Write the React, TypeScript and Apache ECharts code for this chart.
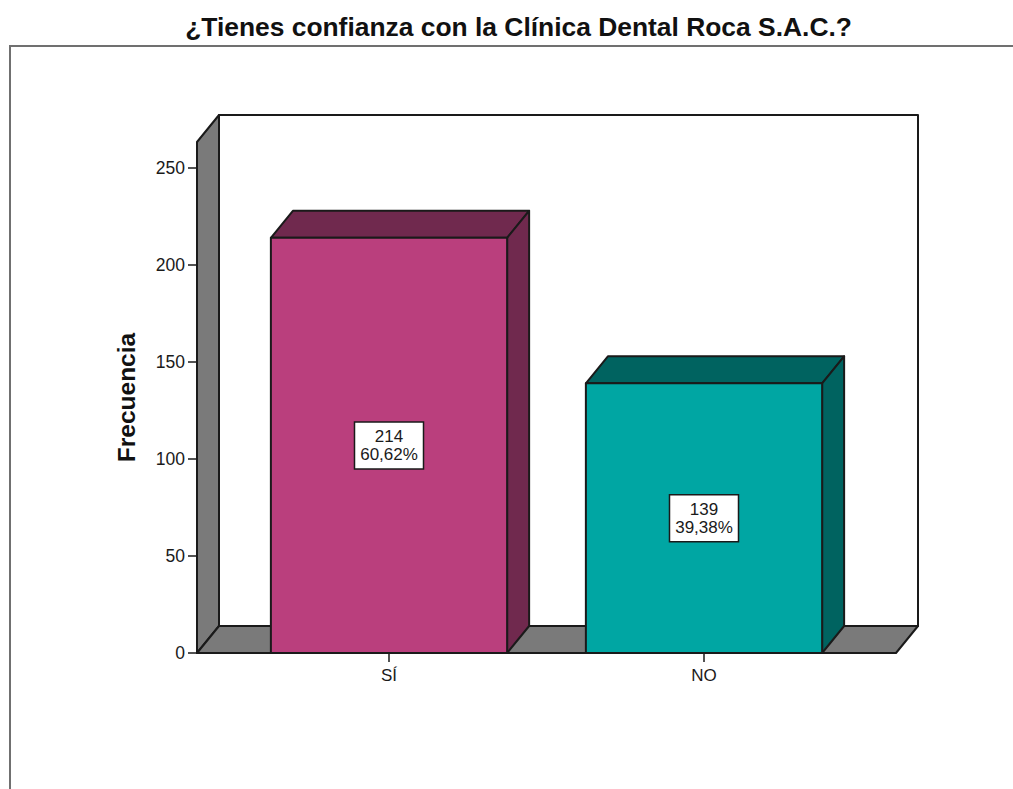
import React, { useEffect, useRef } from "react";
import * as echarts from "echarts";

const titleText = "¿Tienes confianza con la Clínica Dental Roca S.A.C.?";
const axisName = "Frecuencia";
const categories = ["SÍ", "NO"];
const counts = [214, 139];
const percents = ["60,62%", "39,38%"];
const yTicks = [0, 50, 100, 150, 200, 250];
const yCeiling = 263.4;
const faceColors = ["#BA3F7D", "#00A6A3"];
const shadeColors = ["#70294E", "#006360"];

const FONT = '"Liberation Sans", Arial, sans-serif';
const DX = 22;
const DY = 27;
const INK = "#1a1a1a";
const WALL = "#7A7A7A";

function renderWalls(_params: any, api: any) {
  const band = api.size([1, 0])[0];
  const x0 = api.coord([0, 0])[0] - band / 2 - 34.5;
  const x1 = api.coord([1, 0])[0] + band / 2 + 34.5;
  const yBase = api.coord([0, 0])[1];
  const yTop = api.coord([0, api.value(1)])[1];
  const stroke = { stroke: INK, lineWidth: 2, lineJoin: "round" };
  return {
    type: "group",
    children: [
      { type: "rect", shape: { x: x0 + DX, y: yTop - DY, width: x1 - x0, height: yBase - yTop }, style: { fill: "#fff", ...stroke } },
      { type: "polygon", shape: { points: [[x0, yBase], [x0, yTop], [x0 + DX, yTop - DY], [x0 + DX, yBase - DY]] }, style: { fill: WALL, ...stroke } },
      { type: "polygon", shape: { points: [[x0, yBase], [x0 + DX, yBase - DY], [x1 + DX, yBase - DY], [x1, yBase]] }, style: { fill: WALL, ...stroke } },
    ],
  };
}

function renderBar(params: any, api: any) {
  const i = params.dataIndex;
  const band = api.size([1, 0])[0];
  const w = band * 0.75;
  const c = api.coord([api.value(0), api.value(1)]);
  const base = api.coord([api.value(0), 0]);
  const l = c[0] - w / 2;
  const r = c[0] + w / 2;
  const t = c[1];
  const b = base[1];
  const midY = (t + b) / 2;
  const stroke = { stroke: INK, lineWidth: 2, lineJoin: "round" };
  return {
    type: "group",
    children: [
      { type: "polygon", shape: { points: [[l, t], [l + DX, t - DY], [r + DX, t - DY], [r, t]] }, style: { fill: shadeColors[i], ...stroke } },
      { type: "polygon", shape: { points: [[r, t], [r + DX, t - DY], [r + DX, b - DY], [r, b]] }, style: { fill: shadeColors[i], ...stroke } },
      { type: "rect", shape: { x: l, y: t, width: w, height: b - t }, style: { fill: faceColors[i], ...stroke } },
      { type: "rect", shape: { x: c[0] - 34.5, y: midY - 23.5, width: 69, height: 47 }, style: { fill: "#fff", stroke: INK, lineWidth: 1.5 } },
      {
        type: "text",
        x: c[0],
        y: midY,
        style: {
          text: `${counts[i]}\n${percents[i]}`,
          align: "center",
          verticalAlign: "middle",
          font: `17px ${FONT}`,
          lineHeight: 18,
          fill: "#1a1a1a",
        },
      },
    ],
  };
}

export default function App() {
  const ref = useRef<HTMLDivElement>(null);
  useEffect(() => {
    const chart = echarts.init(ref.current!, undefined, { renderer: "svg" });
    chart.setOption({
      animation: false,
      backgroundColor: "#fff",
      title: {
        text: titleText,
        left: 513.5,
        top: 9,
        textAlign: "center",
        textStyle: { fontFamily: FONT, fontWeight: "bold", fontSize: 26.4, color: "#111" },
      },
      grid: { left: 231.5, top: 142, width: 630, height: 511 },
      xAxis: {
        type: "category",
        data: categories,
        axisLine: { show: false },
        axisTick: { show: true, alignWithLabel: true, length: 9, lineStyle: { color: INK, width: 1.5 } },
        axisLabel: { margin: 13, fontFamily: FONT, fontSize: 17, color: "#1a1a1a", lineHeight: 18 },
      },
      yAxis: {
        type: "value",
        min: 0,
        max: yCeiling,
        offset: 34.5,
        name: axisName,
        nameLocation: "middle",
        nameGap: 58,
        nameTextStyle: { fontFamily: FONT, fontWeight: "bold", fontSize: 24.5, color: "#111" },
        axisLine: { show: false },
        splitLine: { show: false },
        axisTick: { show: true, length: 9, customValues: yTicks, lineStyle: { color: INK, width: 1.5 } },
        axisLabel: { margin: 12, padding: [4, 0, 0, 0], customValues: yTicks, fontFamily: FONT, fontSize: 17.5, color: "#1a1a1a" },
      },
      graphic: [
        {
          type: "polyline",
          silent: true,
          shape: { points: [[10, 789], [10, 46], [1013, 46]] },
          style: { stroke: "#707070", lineWidth: 2, fill: "none" },
        },
      ],
      series: [
        { type: "custom", clip: false, renderItem: renderWalls, data: [[0, yCeiling]], silent: true, z: 1 },
        {
          type: "custom",
          clip: false,
          renderItem: renderBar,
          encode: { x: 0, y: 1 },
          data: categories.map((_, i) => [i, counts[i]]),
          silent: true,
          z: 2,
        },
      ],
    });
    return () => chart.dispose();
  }, []);
  return <div ref={ref} style={{ position: "fixed", left: 0, top: 0, width: 1013, height: 789 }} />;
}
